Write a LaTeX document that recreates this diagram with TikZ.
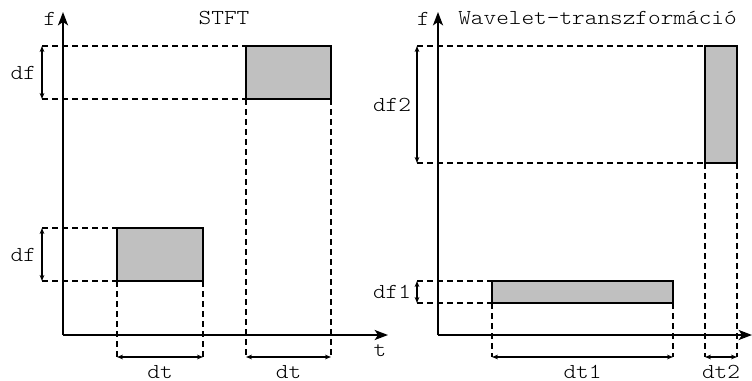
\documentclass[tikz,border=0pt]{standalone}
\usepackage{fontspec}
\setmonofont{lmmonolt10-regular}[Extension=.otf, FakeStretch=1.13]
\usepackage{tikz}
\usetikzlibrary{arrows.meta,positioning,calc}
\usepackage{xcolor}
\definecolor{cellgray}{RGB}{192,192,192}

\begin{document}
\begin{tikzpicture}[
    x=0.75pt, y=-0.75pt,
    axis/.style={line width=1.5pt, -{Stealth[length=10pt, width=7.5pt, inset=2.5pt]}},
    cell/.style={draw, line width=1.4pt, fill=cellgray},
    guide/.style={line width=1.1pt, dash pattern=on 4.5pt off 3pt},
    dim/.style={line width=1pt, {Stealth[length=4.5pt, width=3.5pt]}-{Stealth[length=4.5pt, width=3.5pt]}},
    lbl/.style={font=\ttfamily\fontsize{16}{19}\selectfont, inner sep=0pt}
  ]
  \useasboundingbox (0,0) rectangle (752,381);

  %% ---- (a) STFT ----
  \coordinate (oA) at (63,335);
  \coordinate (fA) at (63,12);
  \coordinate (tA) at (388,335);
  \coordinate (dimA) at (42,357);

  \node[lbl] (fAlbl) at (50,19) {f};
  \node[lbl] (tAlbl) at (380,351) {t};
  \node[lbl, anchor=base] (titleA) at (224,25) {STFT};

  %% equal cells: same dt and df everywhere
  \foreach \n/\l/\r/\t/\b in {a1/117/203/228/281, a2/246/331/46/99}{
    \coordinate (\n-nw) at (\l,\t);
    \coordinate (\n-sw) at (\l,\b);
    \coordinate (\n-se) at (\r,\b);
    \draw[guide] (\n-nw -| dimA) -- (\n-nw);
    \draw[guide] (\n-sw -| dimA) -- (\n-sw);
    \draw[guide] (\n-sw) -- (\n-sw |- dimA);
    \draw[guide] (\n-se) -- (\n-se |- dimA);
    \draw[cell] (\n-nw) rectangle (\n-se);
    \draw[dim] (\n-nw -| dimA) -- (\n-sw -| dimA)
      node[lbl, midway, left=4pt] {df};
    \draw[dim] (\n-sw |- dimA) -- (\n-se |- dimA)
      node[lbl, midway, anchor=base, yshift=-15.75pt] {dt};
  }

  \draw[axis] (oA) -- (fA);
  \draw[axis] (oA) -- (tA);

  %% ---- (b) Wavelet ----
  \coordinate (oB) at (438,335);
  \coordinate (fB) at (438,12);
  \coordinate (tB) at (752,335);
  \coordinate (dimB) at (417,357);

  \node[lbl] (fBlbl) at (423.5,19) {f};
  \node[lbl] (tBlbl) at (759,351) {t};
  \node[lbl, anchor=base] (titleB) at (597.5,25) {Wavelet-transzformáció};

  %% long window at low f, short window at high f
  \foreach \n/\l/\r/\t/\b/\k in {b1/492/673/281/303/1, b2/705/737/46/163/2}{
    \coordinate (\n-nw) at (\l,\t);
    \coordinate (\n-sw) at (\l,\b);
    \coordinate (\n-se) at (\r,\b);
    \draw[guide] (\n-nw -| dimB) -- (\n-nw);
    \draw[guide] (\n-sw -| dimB) -- (\n-sw);
    \draw[guide] (\n-sw) -- (\n-sw |- dimB);
    \draw[guide] (\n-se) -- (\n-se |- dimB);
    \draw[cell] (\n-nw) rectangle (\n-se);
    \draw[dim] (\n-nw -| dimB) -- (\n-sw -| dimB)
      node[lbl, midway, left=4pt] {df\k};
    \draw[dim] (\n-sw |- dimB) -- (\n-se |- dimB)
      node[lbl, midway, anchor=base, yshift=-15.75pt] {dt\k};
  }

  \draw[axis] (oB) -- (fB);
  \draw[axis] (oB) -- (tB);

\end{tikzpicture}
\end{document}
